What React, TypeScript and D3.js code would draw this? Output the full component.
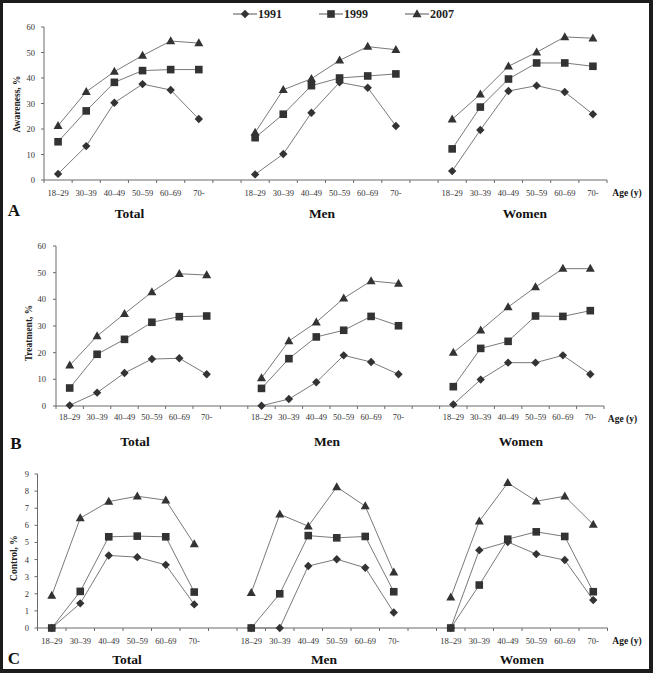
import React from 'react';
import * as d3 from 'd3';

const ageGroups = ['18–29', '30–39', '40–49', '50–59', '60–69', '70-'];
const sexGroups = ['Total', 'Men', 'Women'];
const years = ['1991', '1999', '2007'];

// values per panel/year: Total(6), Men(6), Women(6)
const awareness1991 = [2.4, 13.3, 30.3, 37.6, 35.3, 23.9, 2.2, 10.2, 26.4, 38.3, 36.2, 21.2, 3.5, 19.6, 34.9, 37.0, 34.5, 25.8];
const awareness1999 = [15.0, 27.1, 38.3, 42.9, 43.3, 43.3, 16.6, 25.8, 37.0, 40.0, 40.8, 41.6, 12.2, 28.6, 39.6, 45.9, 45.9, 44.6];
const awareness2007 = [21.3, 34.6, 42.5, 48.8, 54.5, 53.7, 18.6, 35.4, 39.7, 46.9, 52.3, 51.1, 23.8, 33.6, 44.6, 50.1, 56.1, 55.6];

const treatment1991 = [0.25, 5.0, 12.4, 17.6, 17.9, 11.9, 0.1, 2.6, 8.9, 19.0, 16.5, 11.9, 0.6, 9.9, 16.25, 16.25, 19.0, 11.9];
const treatment1999 = [6.75, 19.4, 25.0, 31.4, 33.5, 33.75, 6.6, 17.75, 25.9, 28.4, 33.6, 30.1, 7.25, 21.6, 24.25, 33.75, 33.6, 35.75];
const treatment2007 = [15.25, 26.25, 34.6, 42.75, 49.6, 49.1, 10.5, 24.4, 31.4, 40.4, 46.9, 45.9, 20.0, 28.4, 37.1, 44.6, 51.5, 51.5];

const control1991 = [0, 1.44, 4.24, 4.14, 3.69, 1.38, 0, 0, 3.62, 4.02, 3.52, 0.91, 0, 4.55, 5.03, 4.32, 3.97, 1.63];
const control1999 = [0, 2.14, 5.33, 5.37, 5.33, 2.1, 0, 2.0, 5.4, 5.27, 5.35, 2.12, 0, 2.51, 5.19, 5.62, 5.35, 2.12];
const control2007 = [1.9, 6.42, 7.39, 7.7, 7.47, 4.9, 2.06, 6.65, 5.95, 8.24, 7.12, 3.25, 1.79, 6.24, 8.48, 7.41, 7.7, 6.05];

const percentTicks = [0, 10, 20, 30, 40, 50, 60];
const controlTicks = [0, 1, 2, 3, 4, 5, 6, 7, 8, 9];

const FONT = '"Liberation Serif", "DejaVu Serif", serif';
const MARK = '#333';
const LINE = '#7a7a7a';
const AXIS = '#6a6a6a';

type PanelSpec = {
  letter: string;
  title: string;
  series: number[][];
  yMax: number;
  ticks: number[];
  axisX: number;
  axisEnd: number;
  yBottom: number;
  yTop: number;
  tickLabelX: number;
  titleX: number;
  titleY: number;
  xLabelY: number;
  groupLabelY: number;
  groupCenters: number[];
  letterX: number;
  letterY: number;
  ageX: number;
  ageY: number;
};

const panels: PanelSpec[] = [
  {
    letter: 'A', title: 'Awareness, %', series: [awareness1991, awareness1999, awareness2007],
    yMax: 60, ticks: percentTicks, axisX: 44, axisEnd: 607, yBottom: 180, yTop: 27,
    tickLabelX: 35, titleX: 17, titleY: 104, xLabelY: 193, groupLabelY: 213,
    groupCenters: [129.5, 322, 525], letterX: 14, letterY: 210, ageX: 627, ageY: 193,
  },
  {
    letter: 'B', title: 'Treatment, %', series: [treatment1991, treatment1999, treatment2007],
    yMax: 60, ticks: percentTicks, axisX: 56, axisEnd: 604, yBottom: 406, yTop: 246,
    tickLabelX: 46, titleX: 28.5, titleY: 333, xLabelY: 417, groupLabelY: 441,
    groupCenters: [135, 327, 521], letterX: 16, letterY: 443, ageX: 622.5, ageY: 419,
  },
  {
    letter: 'C', title: 'Control, %', series: [control1991, control1999, control2007],
    yMax: 9, ticks: controlTicks, axisX: 37.5, axisEnd: 607.5, yBottom: 628, yTop: 474,
    tickLabelX: 29, titleX: 14, titleY: 558, xLabelY: 641, groupLabelY: 659,
    groupCenters: [127, 324, 522], letterX: 14, letterY: 658, ageX: 627, ageY: 641,
  },
];

// slot keys: 6 ages per group, one empty slot between groups
const slotKeys: string[] = [];
sexGroups.forEach((g, gi) => {
  ageGroups.forEach((a) => slotKeys.push(`${g}|${a}`));
  if (gi < sexGroups.length - 1) slotKeys.push(`gap${gi}`);
});

function Marker({ kind, x, y }: { kind: number; x: number; y: number }) {
  if (kind === 0) {
    const r = 4.2;
    return <path d={`M${x},${y - r}L${x + r},${y}L${x},${y + r}L${x - r},${y}Z`} fill={MARK} />;
  }
  if (kind === 1) {
    const s = 7.6;
    return <rect x={x - s / 2} y={y - s / 2} width={s} height={s} fill={MARK} />;
  }
  const w = 9, h = 8;
  return <path d={`M${x},${y - h * 0.6}L${x + w / 2},${y + h * 0.4}L${x - w / 2},${y + h * 0.4}Z`} fill={MARK} />;
}

function Panel({ p }: { p: PanelSpec }) {
  const x = d3.scaleBand<string>().domain(slotKeys).range([p.axisX, p.axisEnd]).paddingInner(0).paddingOuter(0);
  const y = d3.scaleLinear().domain([0, p.yMax]).range([p.yBottom, p.yTop]);
  const bw = x.bandwidth();
  const line = d3.line<[number, number]>().x((d) => d[0]).y((d) => d[1]);
  const boundaries = d3.range(slotKeys.length + 1).map((i) => p.axisX + i * bw);

  return (
    <g>
      {/* axes */}
      <line x1={p.axisX} x2={p.axisX} y1={p.yBottom} y2={p.yTop} stroke={AXIS} strokeWidth={1} />
      <line x1={p.axisX} x2={p.axisEnd} y1={p.yBottom} y2={p.yBottom} stroke={AXIS} strokeWidth={1} />
      {p.ticks.map((t) => (
        <g key={t}>
          <line x1={p.axisX - 3} x2={p.axisX} y1={y(t)} y2={y(t)} stroke={AXIS} />
          <text x={p.tickLabelX} y={y(t)} textAnchor="end" dominantBaseline="central" fontSize={8.5} fill="#333" fontFamily={FONT}>{t}</text>
        </g>
      ))}
      {boundaries.map((b, i) => (
        <line key={i} x1={b} x2={b} y1={p.yBottom} y2={p.yBottom + 3} stroke={AXIS} />
      ))}
      {sexGroups.map((g) => ageGroups.map((a) => (
        <text key={`${g}${a}`} x={(x(`${g}|${a}`) as number) + bw / 2} y={p.xLabelY} textAnchor="middle" dominantBaseline="central" fontSize={8.5} fill="#333" fontFamily={FONT}>{a}</text>
      )))}
      {/* y title */}
      <text transform={`translate(${p.titleX},${p.titleY}) rotate(-90)`} textAnchor="middle" dominantBaseline="central" fontSize={9.5} fontWeight="bold" fill="#222" fontFamily={FONT}>{p.title}</text>
      {/* series */}
      {p.series.map((vals, si) => sexGroups.map((g, gi) => {
        const pts: [number, number][] = ageGroups.map((a, ai) => [(x(`${g}|${a}`) as number) + bw / 2, y(vals[gi * 6 + ai])]);
        return (
          <g key={`${si}${g}`}>
            <path d={line(pts) || ''} fill="none" stroke={LINE} strokeWidth={1} />
            {pts.map((pt, i) => <Marker key={i} kind={si} x={pt[0]} y={pt[1]} />)}
          </g>
        );
      }))}
      {/* group labels */}
      {sexGroups.map((g, gi) => (
        <text key={g} x={p.groupCenters[gi]} y={p.groupLabelY} textAnchor="middle" dominantBaseline="central" fontSize={13.5} fontWeight="bold" fill="#111" fontFamily={FONT}>{g}</text>
      ))}
      <text x={p.letterX} y={p.letterY} textAnchor="middle" dominantBaseline="central" fontSize={17} fontWeight="bold" fill="#111" fontFamily={FONT}>{p.letter}</text>
      <text x={p.ageX} y={p.ageY} textAnchor="middle" dominantBaseline="central" fontSize={9.5} fontWeight="bold" fill="#111" fontFamily={FONT}>Age (y)</text>
    </g>
  );
}

export default function App() {
  const W = 653, H = 673;
  const legendX = d3.scalePoint<string>().domain(years).range([233, 405]);
  return (
    <svg width={W} height={H} style={{ position: 'absolute', left: 0, top: 0, display: 'block' }}>
      <rect x={0} y={0} width={W} height={H} fill="#1c1c1c" />
      <rect x={3} y={3} width={W - 7} height={H - 7} fill="#fff" />
      {years.map((yr, i) => {
        const x0 = legendX(yr) as number;
        return (
          <g key={yr}>
            <line x1={x0} x2={x0 + 24} y1={14} y2={14} stroke="#555" strokeWidth={1} />
            <Marker kind={i} x={x0 + 12} y={14} />
            <text x={x0 + 25} y={14} dominantBaseline="central" fontSize={12} fontWeight="bold" fill="#222" fontFamily={FONT}>{yr}</text>
          </g>
        );
      })}
      {panels.map((p) => <Panel key={p.letter} p={p} />)}
    </svg>
  );
}
